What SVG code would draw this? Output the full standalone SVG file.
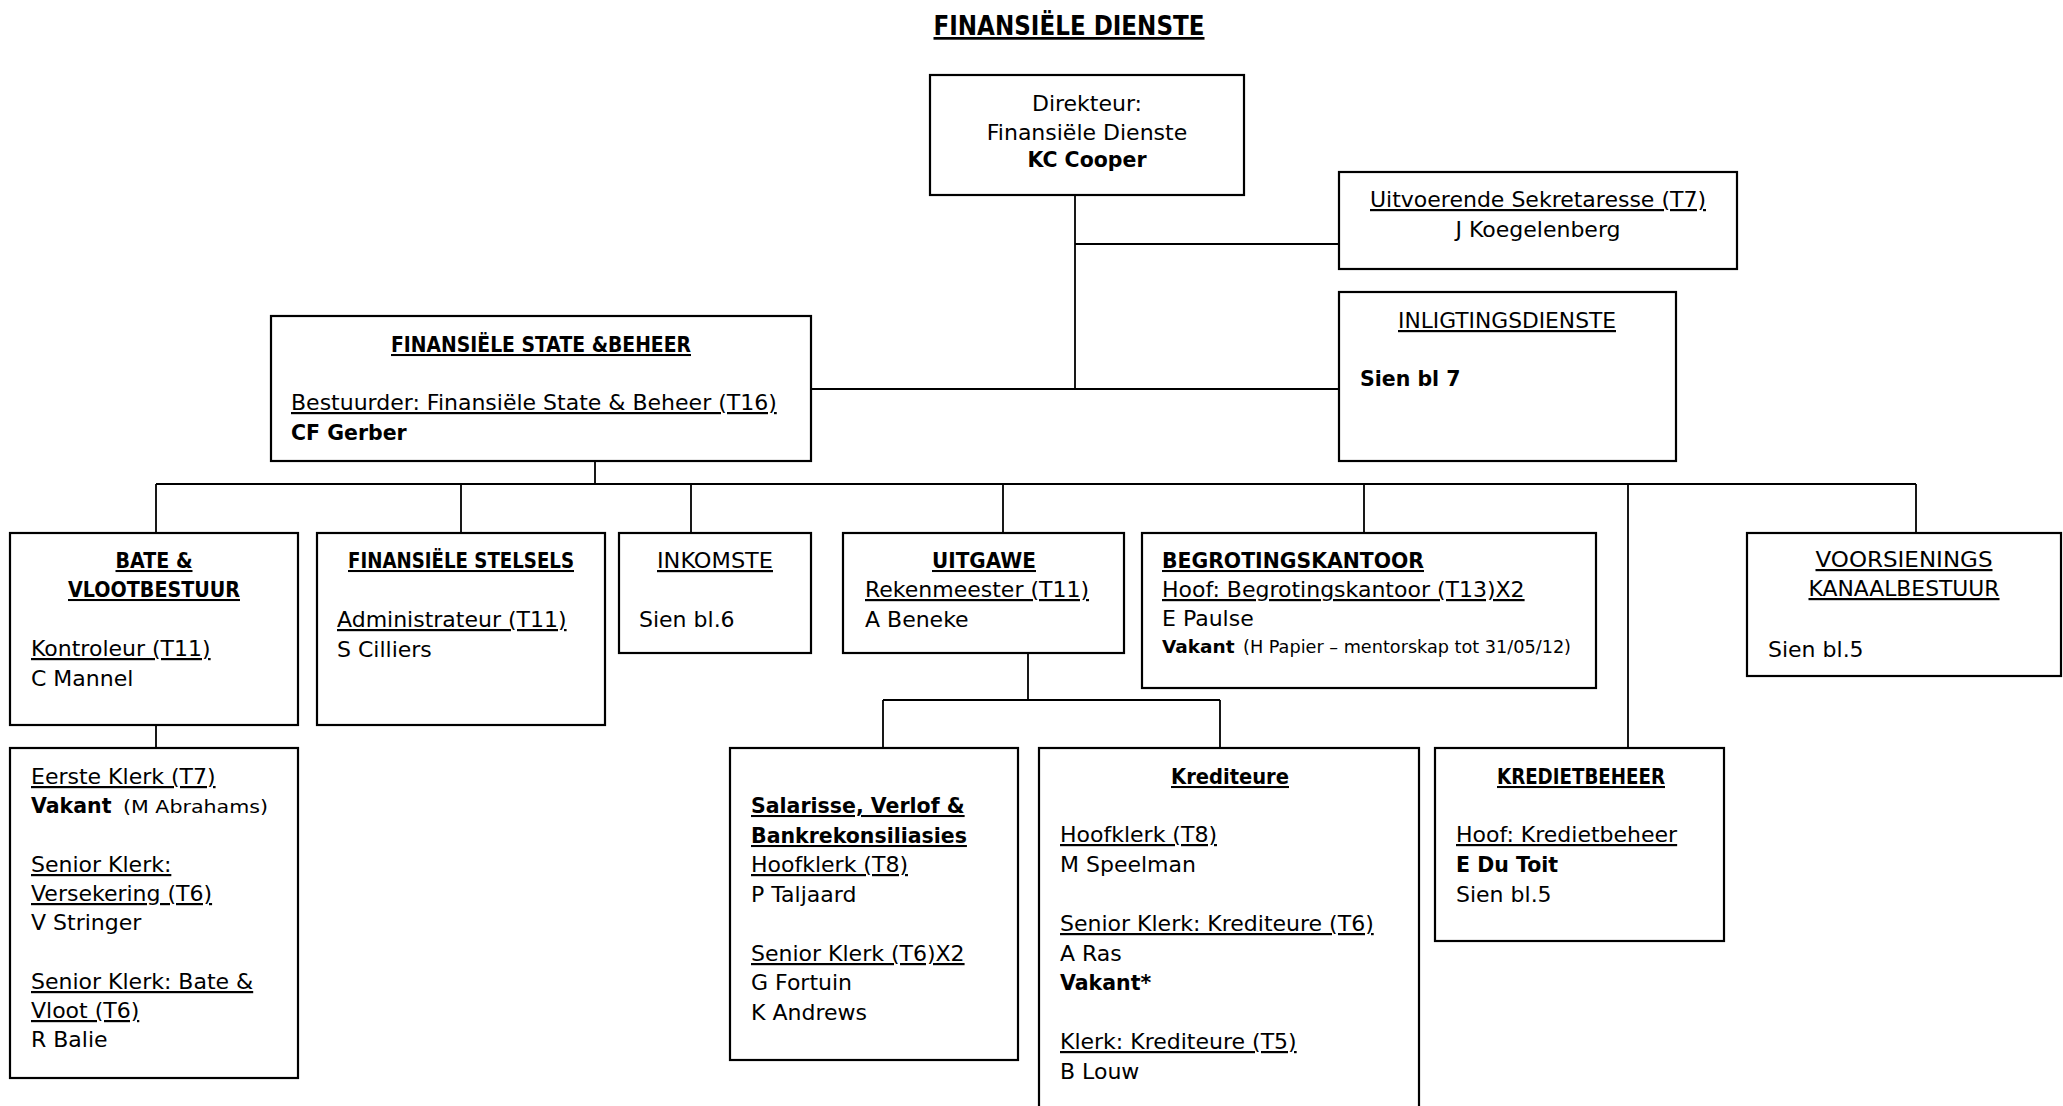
<svg xmlns="http://www.w3.org/2000/svg" width="2063" height="1106" viewBox="0 0 2063 1106">
<style>
.bx{fill:#fff;stroke:#000;stroke-width:2.2}
.ln{stroke:#000;stroke-width:1.8;fill:none}
text{font-family:"DejaVu Sans","Liberation Sans",sans-serif;font-size:22px;fill:#000}
.b{font-weight:bold;font-size:20.5px}
.u{text-decoration:underline}
.s{font-size:17px}
.c{text-anchor:middle}
</style>
<rect width="2063" height="1106" fill="#fff"/>
<text id="title" x="1069" y="35" class="b u c" style="font-size:27px" textLength="271" lengthAdjust="spacingAndGlyphs">FINANSIËLE DIENSTE</text>
<g id="connectors">
<path class="ln" d="M1075 195V389M1075 244H1339M811 389H1339"/>
<path class="ln" d="M595 461V484M156 484H1916M156 484V533M461 484V533M691 484V533M1003 484V533M1364 484V533M1916 484V533M1628 484V748"/>
<path class="ln" d="M156 725V748M1028 653V700M883 700H1220M883 700V748M1220 700V748"/>
</g>
<g id="direkteur">
<rect class="bx" x="930" y="75" width="314" height="120"/>
<text x="1087" y="111" class="c">Direkteur:</text>
<text x="1087" y="139.5" class="c">Finansiële Dienste</text>
<text x="1087" y="167" class="c b">KC Cooper</text>
</g>
<g id="sekretaresse">
<rect class="bx" x="1339" y="172" width="398" height="97"/>
<text x="1538" y="207" class="c u">Uitvoerende Sekretaresse (T7)</text>
<text x="1538" y="237" class="c">J Koegelenberg</text>
</g>
<g id="inligting">
<rect class="bx" x="1339" y="292" width="337" height="169"/>
<text x="1507" y="328" class="c u" textLength="218" lengthAdjust="spacingAndGlyphs">INLIGTINGSDIENSTE</text>
<text x="1360" y="386" class="b">Sien bl 7</text>
</g>
<g id="fsb">
<rect class="bx" x="271" y="316" width="540" height="145"/>
<text x="541" y="352" class="c b u" textLength="300" lengthAdjust="spacingAndGlyphs">FINANSIËLE STATE &amp;BEHEER</text>
<text x="291" y="410" class="u">Bestuurder: Finansiële State &amp; Beheer (T16)</text>
<text x="291" y="440" class="b">CF Gerber</text>
</g>
<g id="bate">
<rect class="bx" x="10" y="533" width="288" height="192"/>
<text x="154" y="568" class="c b u" textLength="77" lengthAdjust="spacingAndGlyphs">BATE &amp;</text>
<text x="154" y="597" class="c b u" textLength="172" lengthAdjust="spacingAndGlyphs">VLOOTBESTUUR</text>
<text x="31" y="656" class="u">Kontroleur (T11)</text>
<text x="31" y="686">C Mannel</text>
</g>
<g id="stelsels">
<rect class="bx" x="317" y="533" width="288" height="192"/>
<text x="461" y="568" class="c b u" textLength="226" lengthAdjust="spacingAndGlyphs">FINANSIËLE STELSELS</text>
<text x="337" y="627" class="u">Administrateur (T11)</text>
<text x="337" y="657">S Cilliers</text>
</g>
<g id="inkomste">
<rect class="bx" x="619" y="533" width="192" height="120"/>
<text x="715" y="568" class="c u" textLength="116" lengthAdjust="spacingAndGlyphs">INKOMSTE</text>
<text x="639" y="627">Sien bl.6</text>
</g>
<g id="uitgawe">
<rect class="bx" x="843" y="533" width="281" height="120"/>
<text x="984" y="568" class="c b u" textLength="104" lengthAdjust="spacingAndGlyphs">UITGAWE</text>
<text x="865" y="597" class="u">Rekenmeester (T11)</text>
<text x="865" y="627">A Beneke</text>
</g>
<g id="begroting">
<rect class="bx" x="1142" y="533" width="454" height="155"/>
<text x="1162" y="568" class="b u" textLength="262" lengthAdjust="spacingAndGlyphs">BEGROTINGSKANTOOR</text>
<text x="1162" y="597" class="u">Hoof: Begrotingskantoor (T13)X2</text>
<text x="1162" y="626">E Paulse</text>
<text x="1162" y="653"><tspan class="b" style="font-size:18.5px">Vakant</tspan><tspan class="s" x="1243" textLength="328" lengthAdjust="spacingAndGlyphs">(H Papier – mentorskap tot 31/05/12)</tspan></text>
</g>
<g id="voorsienings">
<rect class="bx" x="1747" y="533" width="314" height="143"/>
<text x="1904" y="567" class="c u" textLength="177" lengthAdjust="spacingAndGlyphs">VOORSIENINGS</text>
<text x="1904" y="596" class="c u" textLength="191" lengthAdjust="spacingAndGlyphs">KANAALBESTUUR</text>
<text x="1768" y="657">Sien bl.5</text>
</g>
<g id="eerste">
<rect class="bx" x="10" y="748" width="288" height="330"/>
<text x="31" y="784" class="u">Eerste Klerk (T7)</text>
<text x="31" y="813"><tspan class="b">Vakant</tspan><tspan class="s" x="123" textLength="145" lengthAdjust="spacingAndGlyphs">(M Abrahams)</tspan></text>
<text x="31" y="872" class="u">Senior Klerk:</text>
<text x="31" y="901" class="u">Versekering (T6)</text>
<text x="31" y="930">V Stringer</text>
<text x="31" y="989" class="u">Senior Klerk: Bate &amp;</text>
<text x="31" y="1018" class="u">Vloot (T6)</text>
<text x="31" y="1047">R Balie</text>
</g>
<g id="salarisse">
<rect class="bx" x="730" y="748" width="288" height="312"/>
<text x="751" y="813" class="b u">Salarisse, Verlof &amp;</text>
<text x="751" y="843" class="b u">Bankrekonsiliasies</text>
<text x="751" y="872" class="u">Hoofklerk (T8)</text>
<text x="751" y="902">P Taljaard</text>
<text x="751" y="961" class="u">Senior Klerk (T6)X2</text>
<text x="751" y="990">G Fortuin</text>
<text x="751" y="1020">K Andrews</text>
</g>
<g id="krediteure">
<rect class="bx" x="1039" y="748" width="380" height="380"/>
<text x="1230" y="784" class="c b u" textLength="118" lengthAdjust="spacingAndGlyphs">Krediteure</text>
<text x="1060" y="842" class="u">Hoofklerk (T8)</text>
<text x="1060" y="872">M Speelman</text>
<text x="1060" y="931" class="u">Senior Klerk: Krediteure (T6)</text>
<text x="1060" y="961">A Ras</text>
<text x="1060" y="990" class="b">Vakant*</text>
<text x="1060" y="1049" class="u">Klerk: Krediteure (T5)</text>
<text x="1060" y="1079">B Louw</text>
</g>
<g id="kredietbeheer">
<rect class="bx" x="1435" y="748" width="289" height="193"/>
<text x="1581" y="784" class="c b u" textLength="168" lengthAdjust="spacingAndGlyphs">KREDIETBEHEER</text>
<text x="1456" y="842" class="u">Hoof: Kredietbeheer</text>
<text x="1456" y="872" class="b">E Du Toit</text>
<text x="1456" y="902">Sien bl.5</text>
</g>
</svg>
